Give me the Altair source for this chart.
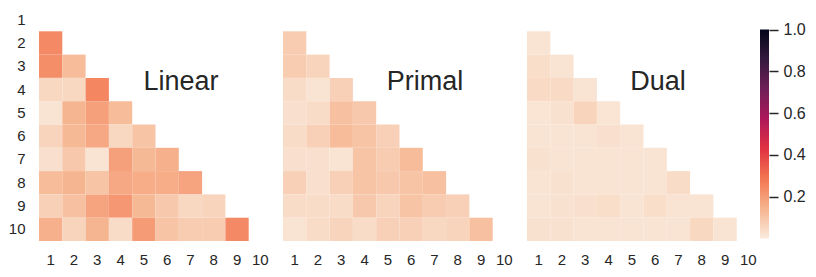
import altair as alt
import pandas as pd

labels = list(range(1, 11))
panel_names = ["Linear", "Primal", "Dual"]

# strictly lower-triangular values, row i (2..10) has i-1 entries (cols 1..i-1)
linear = [
    [0.24],
    [0.23, 0.12],
    [0.05, 0.05, 0.25],
    [0.02, 0.14, 0.19, 0.12],
    [0.06, 0.13, 0.17, 0.05, 0.10],
    [0.03, 0.09, 0.02, 0.19, 0.13, 0.15],
    [0.12, 0.14, 0.10, 0.17, 0.16, 0.16, 0.18],
    [0.07, 0.11, 0.18, 0.21, 0.13, 0.09, 0.05, 0.06],
    [0.15, 0.06, 0.14, 0.04, 0.20, 0.10, 0.08, 0.08, 0.24],
]
primal = [
    [0.08],
    [0.08, 0.06],
    [0.04, 0.02, 0.07],
    [0.03, 0.04, 0.11, 0.09],
    [0.04, 0.07, 0.12, 0.10, 0.07],
    [0.03, 0.03, 0.02, 0.10, 0.08, 0.12],
    [0.07, 0.03, 0.07, 0.10, 0.09, 0.10, 0.11],
    [0.04, 0.04, 0.04, 0.09, 0.06, 0.10, 0.08, 0.07],
    [0.02, 0.04, 0.06, 0.04, 0.07, 0.07, 0.05, 0.06, 0.11],
]
dual = [
    [0.02],
    [0.035, 0.02],
    [0.045, 0.045, 0.02],
    [0.015, 0.025, 0.06, 0.015],
    [0.02, 0.02, 0.02, 0.03, 0.02],
    [0.025, 0.02, 0.02, 0.02, 0.02, 0.02],
    [0.02, 0.025, 0.02, 0.02, 0.02, 0.02, 0.04],
    [0.02, 0.025, 0.03, 0.035, 0.02, 0.035, 0.02, 0.02],
    [0.025, 0.025, 0.02, 0.02, 0.02, 0.02, 0.02, 0.05, 0.02],
]

# seaborn "rocket_r" anchor colours
cmap_domain = [0, 1/7, 2/7, 3/7, 4/7, 5/7, 6/7, 1]
cmap_range = ["#faebdd", "#f6b48f", "#f37651", "#e13342",
              "#ad1759", "#701f57", "#35193e", "#03051a"]
cbar_ticks = [0.2, 0.4, 0.6, 0.8, 1.0]

FONT = "Liberation Sans"
INK = "#262626"


def to_df(mat):
    rows = []
    for i, r in enumerate(mat):
        for j, v in enumerate(r):
            rows.append({"row": i + 2, "col": j + 1, "value": v})
    return pd.DataFrame(rows)


color = alt.Color(
    "value:Q",
    scale=alt.Scale(domain=cmap_domain, range=cmap_range, interpolate="rgb"),
    legend=None,
)


def panel(mat, name, tx, show_y):
    df = to_df(mat)
    yaxis = alt.Axis(title=None, ticks=False, domain=False, labelPadding=14,
                     labelFontSize=15) if show_y else None
    heat = alt.Chart(df).mark_rect(stroke=None).encode(
        x=alt.X("col:O", scale=alt.Scale(domain=labels, paddingInner=0, paddingOuter=0),
                axis=alt.Axis(title=None, labelAngle=0, ticks=False, domain=False,
                              labelPadding=11, labelFontSize=15)),
        y=alt.Y("row:O", scale=alt.Scale(domain=labels, paddingInner=0, paddingOuter=0),
                axis=yaxis),
        color=color,
    )
    txt = alt.Chart(pd.DataFrame({"t": [name]})).mark_text(
        fontSize=27, font=FONT, color=INK, baseline="middle", align="center"
    ).encode(text="t:N", x=alt.value(tx), y=alt.value(74))
    return alt.layer(heat, txt).properties(width=233, height=233)


# colour bar drawn as a gradient-filled rect spanning 0..1 on its own y scale
stops = [alt.GradientStop(offset=o, color=c) for o, c in zip(cmap_domain, cmap_range)]
cbar = alt.Chart(pd.DataFrame({"lo": [0.0], "hi": [1.0]})).mark_rect(
    fill=alt.Gradient(gradient="linear", stops=stops, x1=0, x2=0, y1=1, y2=0),
    stroke=None,
).encode(
    y=alt.Y("lo:Q", scale=alt.Scale(domain=[-0.012, 1.103], nice=False, zero=False),
            axis=alt.Axis(orient="right", title=None, values=cbar_ticks, format=".1f",
                          domain=False, tickSize=9, tickWidth=1.5, tickColor=INK,
                          labelPadding=5, labelFontSize=16, grid=False)),
    y2="hi:Q",
    x=alt.value(0),
    x2=alt.value(9),
).properties(width=9, height=233)

heatmaps = alt.hconcat(
    panel(linear, "Linear", 142, True),
    panel(primal, "Primal", 142, False),
    panel(dual, "Dual", 131, False),
    spacing=11,
)

chart = alt.hconcat(heatmaps, cbar, spacing=0).properties(padding=0).configure_view(
    stroke=None
).configure_axis(labelFont=FONT, labelColor=INK, grid=False)

chart.save("out.html", embed_options={"renderer": "svg", "actions": False})
